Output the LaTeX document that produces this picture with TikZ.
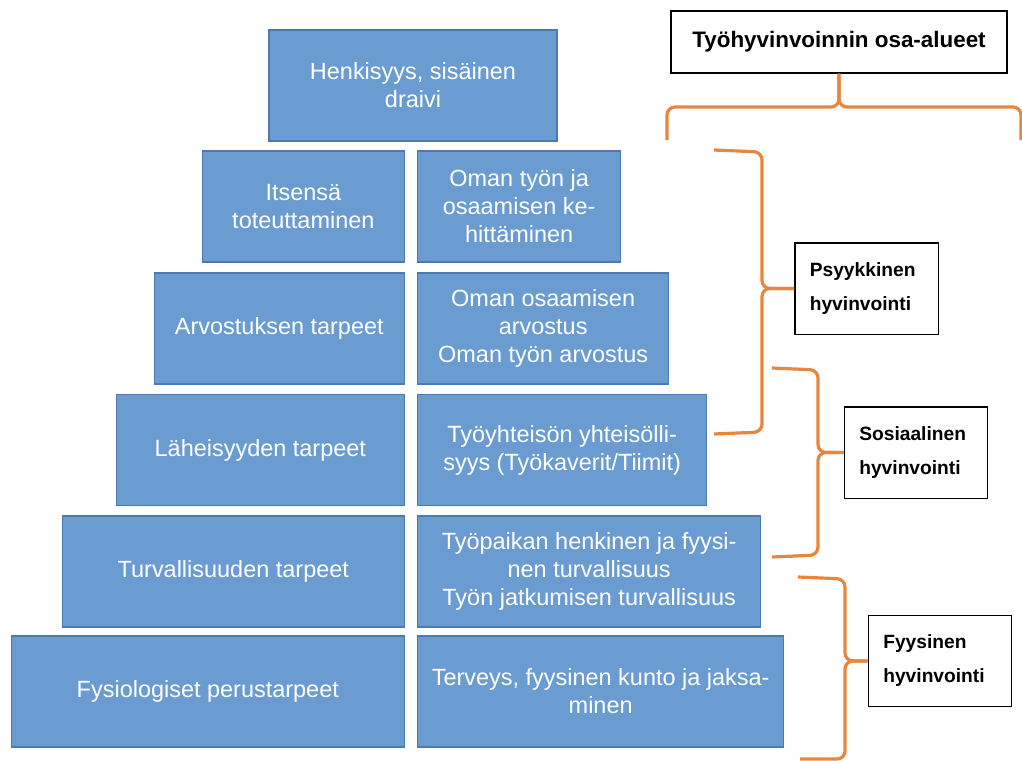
\documentclass[tikz,border=0pt]{standalone}
\usepackage{fontspec}
\setmainfont{Liberation Sans}
\usetikzlibrary{positioning}
\definecolor{boxblue}{HTML}{6A9BD1}
\definecolor{boxedge}{HTML}{4C7AAE}
\definecolor{braceorange}{HTML}{E8873C}

\begin{document}
\begin{tikzpicture}[x=0.75pt,y=-0.75pt,
        level/.style={draw=boxedge,fill=boxblue,line width=1pt,text=white,align=center,
            font=\fontsize{17.6}{21}\selectfont,minimum height=83.25pt,inner sep=2pt},
        area/.style={draw,line width=1pt,align=left,font=\bfseries\fontsize{14.4}{25.5}\selectfont,
            minimum width=107.5pt,minimum height=68.5pt,text width=85pt},
        brace/.style={draw=braceorange,line width=2.4pt,rounded corners=6pt}]
        \useasboundingbox (0,0) rectangle (1022,761);
        % pyramid, left column
        \node[level,minimum width=216pt] (drive) at (413,85.5) {Henkisyys, sisäinen\\draivi};
        \node[level,minimum width=151.5pt,anchor=east] (self) at (405,206.5) {Itsensä\\toteuttaminen};
        \node[level,minimum width=187.5pt,anchor=east] (esteem) at (405,328.5) {Arvostuksen tarpeet};
        \node[level,minimum width=216pt,anchor=east] (love) at (405,450) {Läheisyyden tarpeet};
        \node[level,minimum width=256.5pt,anchor=east] (safety) at (405,571.5) {Turvallisuuden tarpeet};
        \node[level,minimum width=294.75pt,anchor=east] (physio) at (405,691.5) {Fysiologiset perustarpeet};
        % pyramid, right column
        \node[level,minimum width=152.25pt,anchor=west] (develop) at (417,206.5) {Oman työn ja\\osaamisen ke-\\hittäminen};
        \node[level,minimum width=188.25pt,anchor=west] (valued) at (417,328.5) {Oman osaamisen\\arvostus\\Oman työn arvostus};
        \node[level,minimum width=216.75pt,anchor=west] (community) at (417,450) {Työyhteisön yhteisölli-\\syys (Työkaverit/Tiimit)};
        \node[level,minimum width=257.25pt,anchor=west] (worksafe) at (417,571.5) {Työpaikan henkinen ja fyysi-\\nen turvallisuus\\Työn jatkumisen turvallisuus};
        \node[level,minimum width=274.5pt,anchor=west] (health) at (417,691.5) {Terveys, fyysinen kunto ja jaksa-\\minen};
        % wellbeing areas
        \node[draw,line width=1pt,font=\bfseries\fontsize{16.8}{20}\selectfont,minimum width=252pt,minimum height=46.5pt] (areas) at (839,42) {Työhyvinvoinnin osa-alueet};
        \node[area] (psy) at (866.5,288.5) {Psyykkinen\\hyvinvointi};
        \node[area] (social) at (916,452.5) {Sosiaalinen\\hyvinvointi};
        \node[area] (physical) at (940,661) {Fyysinen\\hyvinvointi};
        % brace ends
        \coordinate (topleft) at (667,140);
        \coordinate (topright) at (1021,140);
        \coordinate (psytop) at (714,150);
        \coordinate (psybot) at (714,434);
        \coordinate (soctop) at (772,368);
        \coordinate (socbot) at (772,557);
        \coordinate (phytop) at (798,577);
        \coordinate (phybot) at (800,759);
        % braces
        \draw[brace] (topleft) -- (667,107) -- (839,107) -- (areas.south);
        \draw[brace] (areas.south) -- (839,107) -- (1021,107) -- (topright);
        \draw[brace] (psytop) -- (762,152) -- (762,288.5) -- (psy.west);
        \draw[brace] (psy.west) -- (762,288.5) -- (762,432) -- (psybot);
        \draw[brace] (soctop) -- (818,370) -- (818,452.5) -- (social.west);
        \draw[brace] (social.west) -- (818,452.5) -- (818,555) -- (socbot);
        \draw[brace] (phytop) -- (845,579) -- (845,661) -- (physical.west);
        \draw[brace] (physical.west) -- (845,661) -- (845,759) -- (phybot);
    \end{tikzpicture}
\end{document}
